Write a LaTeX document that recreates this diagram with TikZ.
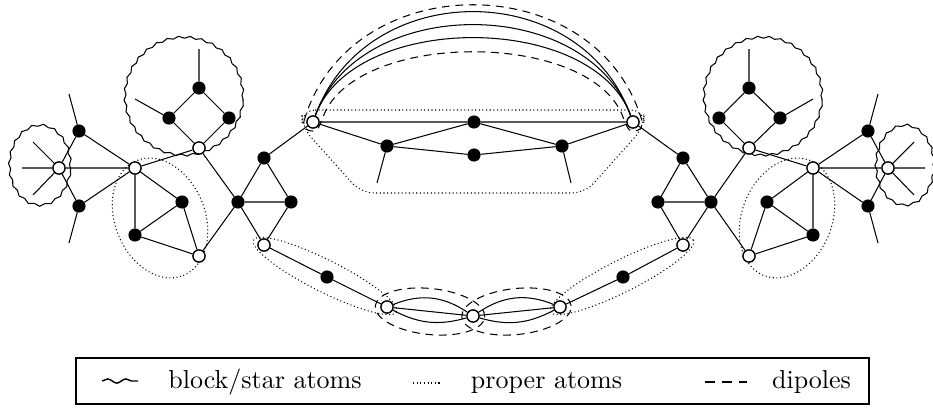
\documentclass[tikz,border=0pt]{standalone}
\usetikzlibrary{backgrounds,calc,decorations.pathmorphing}
\tikzset{
  blk/.style={circle,draw,fill=black,inner sep=0pt,minimum size=4.5pt},
  wht/.style={circle,draw,fill=white,inner sep=0pt,minimum size=4.7pt},
  wavy/.style={decorate,decoration={snake,amplitude=0.4pt,segment length=4.4pt}},
  proper/.style={densely dotted,line width=0.4pt},
  dipole/.style={dash pattern=on 3pt off 2.2pt},
}
\begin{document}
\begin{tikzpicture}[x=0.3846pt,y=0.3846pt,line width=0.55pt]
  \useasboundingbox (0,0) rectangle (933,-407);
  % left side
  \node[wht] (a) at (59,-168) {};
  \coordinate (a1) at (22,-168);
  \coordinate (a2) at (33,-142);
  \coordinate (a3) at (33,-195);
  \node[blk] (ua) at (79,-131) {};
  \node[blk] (la) at (79,-206) {};
  \coordinate (ua1) at (69,-94);
  \coordinate (la1) at (69,-243);
  \node[wht] (b) at (135,-168) {};
  \node[blk] (t1) at (182,-202) {};
  \node[blk] (t2) at (135,-235) {};
  \node[wht] (d) at (199,-256) {};
  \node[wht] (c) at (199,-148) {};
  \node[blk] (k1) at (169,-118) {};
  \node[blk] (k2) at (229,-118) {};
  \node[blk] (k3) at (199,-88) {};
  \coordinate (k31) at (199,-49);
  \coordinate (k11) at (135,-99);
  \node[blk] (e) at (238,-202) {};
  \node[blk] (m1) at (264,-158) {};
  \node[blk] (m2) at (291,-202) {};
  \node[wht] (f) at (264,-245) {};
  \node[blk] (fg) at (327,-277) {};
  % bottom
  \node[wht] (g) at (387,-307) {};
  \node[wht] (h) at (473,-316) {};
  \node[wht] (i) at (560,-307) {};
  \node[blk] (ij) at (623,-277) {};
  \node[wht] (j) at (683,-245) {};
  % top
  \node[wht] (p) at (313,-122) {};
  \node[wht] (q) at (633,-122) {};
  \node[blk] (mt) at (474,-122) {};
  \node[blk] (l) at (387,-146) {};
  \node[blk] (r) at (562,-146) {};
  \node[blk] (n) at (474,-155) {};
  \coordinate (l1) at (377,-183);
  \coordinate (r1) at (571,-183);
  % right side
  \node[blk] (m1r) at (683,-158) {};
  \node[blk] (m2r) at (658,-202) {};
  \node[blk] (er) at (711,-202) {};
  \node[wht] (cr) at (749,-148) {};
  \node[blk] (k1r) at (719,-118) {};
  \node[blk] (k2r) at (780,-118) {};
  \node[blk] (k3r) at (749,-88) {};
  \coordinate (k3r1) at (749,-49);
  \coordinate (k2r1) at (813,-99);
  \node[wht] (dr) at (749,-256) {};
  \node[wht] (br) at (813,-168) {};
  \node[blk] (t1r) at (767,-202) {};
  \node[blk] (t2r) at (813,-235) {};
  \node[blk] (uar) at (868,-131) {};
  \node[blk] (lar) at (868,-206) {};
  \coordinate (uar1) at (878,-94);
  \coordinate (lar1) at (878,-243);
  \node[wht] (ar) at (888,-168) {};
  \coordinate (ar1) at (925,-168);
  \coordinate (ar2) at (914,-142);
  \coordinate (ar3) at (914,-195);

  \begin{scope}[on background layer]
    \draw (a) -- (a1) (a) -- (a2) (a) -- (a3) (ua) -- (ua1) (la) -- (la1)
      (ua) -- (a) (la) -- (a) (ua) -- (b) (la) -- (b) (a) -- (b)
      (b) -- (t1) (b) -- (t2) (t1) -- (t2) (t1) -- (d) (t2) -- (d) (b) -- (c)
      (c) -- (k1) (c) -- (k2) (k1) -- (k3) (k2) -- (k3) (k3) -- (k31) (k1) -- (k11)
      (c) -- (e) (d) -- (e) (e) -- (m1) (e) -- (m2) (m1) -- (m2) (e) -- (f) (m2) -- (f)
      (m1) -- (p) (f) -- (fg) (fg) -- (g);
    \draw (p) -- (mt) (mt) -- (q) (p) -- (l) (l) -- (mt) (mt) -- (r) (r) -- (q)
      (l) -- (n) (n) -- (r) (l) -- (l1) (r) -- (r1);
    \draw (p) to[out=70,in=110,looseness=1.2] (q);
    \draw (p) to[out=70,in=110,looseness=1.05] (q);
    \draw (p) to[out=70,in=110,looseness=0.9] (q);
    \draw (g) -- (h) (g) to[bend left=28] (h) (g) to[bend right=22] (h);
    \draw (h) -- (i) (h) to[bend left=28] (i) (h) to[bend right=22] (i);
    \draw (i) -- (ij) (ij) -- (j);
    \draw (m1r) -- (m2r) (m1r) -- (er) (m2r) -- (er) (m2r) -- (j) (er) -- (j) (m1r) -- (q)
      (er) -- (cr) (er) -- (dr) (cr) -- (k1r) (cr) -- (k2r) (k1r) -- (k3r) (k2r) -- (k3r)
      (k3r) -- (k3r1) (k2r) -- (k2r1) (cr) -- (br)
      (br) -- (t1r) (br) -- (t2r) (t1r) -- (t2r) (t1r) -- (dr) (t2r) -- (dr)
      (br) -- (uar) (br) -- (lar) (br) -- (ar) (uar) -- (ar) (lar) -- (ar)
      (uar) -- (uar1) (lar) -- (lar1) (ar) -- (ar1) (ar) -- (ar2) (ar) -- (ar3);

    % block/star atoms
    \draw[wavy] (40,-168) ellipse [x radius=30.5, y radius=40];
    \draw[wavy] (184,-99) circle [radius=59];
    \draw[wavy] (763,-99) circle [radius=59];
    \draw[wavy] (905,-168) ellipse [x radius=29, y radius=40];

    % proper atoms
    \draw[proper, rotate around={-68:(160,-218)}] (160,-218) ellipse [x radius=62, y radius=45];
    \draw[proper, rotate around={68:(787,-218)}] (787,-218) ellipse [x radius=62, y radius=45];
    \draw[proper, rotate around={-26.7:(325,-276)}] (325,-276) ellipse [x radius=80, y radius=16];
    \draw[proper, rotate around={26.7:(622,-276)}] (622,-276) ellipse [x radius=80, y radius=16];
    \draw[proper, rounded corners=5pt] (302,-110) -- (644,-110) -- (644,-127) -- (585,-193)
      -- (361,-193) -- (302,-127) -- cycle;

    % dipoles
    \draw[dipole] ($(p)+(-9,1)$) .. controls +(45,155) and +(-45,155) .. ($(q)+(9,1)$)
      .. controls +(1,-7) and +(7,0) .. ($(q)+(0,-9)$)
      .. controls +(-6,0) and +(3,-5) .. ($(q)+(-9,2)$)
      .. controls +(-28,91) and +(28,91) .. ($(p)+(9,2)$)
      .. controls +(-3,-5) and +(6,0) .. ($(p)+(0,-9)$)
      .. controls +(-7,0) and +(-1,-7) .. ($(p)+(-9,1)$);
    \draw[dipole, rotate around={-6:(430,-311.5)}] (430,-311.5) ellipse [x radius=55, y radius=23];
    \draw[dipole, rotate around={6:(516.5,-311.5)}] (516.5,-311.5) ellipse [x radius=55, y radius=23];
  \end{scope}

  % legend
  \draw (76,-358) rectangle (869,-404);
  \draw[decorate,decoration={snake,amplitude=0.8pt,segment length=7pt}] (102,-381) -- (138,-381);
  \node[anchor=base] (lblock) at (265,-388) {block/star atoms};
  \draw[proper] (413,-383) -- (440,-383);
  \node[anchor=base] (lproper) at (546.5,-388) {proper atoms};
  \draw[dash pattern=on 3.8pt off 2.8pt] (705,-382) -- (747,-382);
  \node[anchor=base] (ldipole) at (811.5,-388) {dipoles};
\end{tikzpicture}
\end{document}
